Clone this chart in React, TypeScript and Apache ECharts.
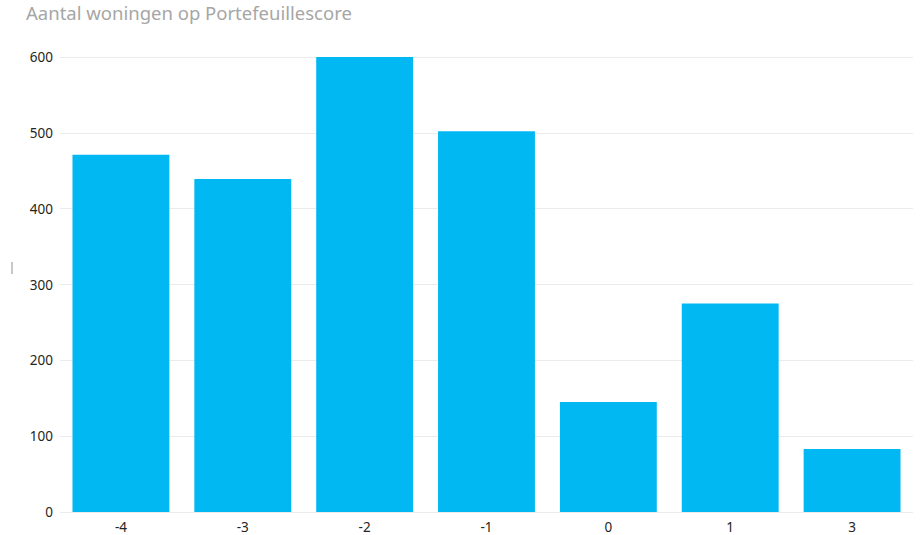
import React, { useEffect, useRef } from "react";
import * as echarts from "echarts";

const titleText = "Aantal woningen op Portefeuillescore";
const categories = ["-4", "-3", "-2", "-1", "0", "1", "3"];
const counts = [471, 439, 602, 502, 145, 275, 83];
const yTicks = { min: 0, max: 600, interval: 100 };

export default function App() {
  const ref = useRef<HTMLDivElement>(null);
  useEffect(() => {
    if (!ref.current) return;
    const chart = echarts.init(ref.current, undefined, { renderer: "svg" });
    chart.setOption({
      animation: false,
      backgroundColor: "#ffffff",
      textStyle: { fontFamily: "'Noto Sans', 'Open Sans', sans-serif" },
      title: {
        text: titleText,
        left: 21,
        top: -2,
        textStyle: {
          fontFamily: "'Noto Sans', 'Open Sans', sans-serif",
          fontSize: 18.5,
          fontWeight: "normal",
          color: "#a6a6a6",
        },
      },
      graphic: [
        {
          type: "rect",
          shape: { x: 11, y: 262, width: 2, height: 12 },
          style: { fill: "#c8c8c8" },
        },
      ],
      grid: { left: 60, right: 11, top: 57, bottom: 23, containLabel: false },
      xAxis: {
        type: "category",
        data: categories,
        axisLine: { show: false },
        axisTick: { show: false },
        axisLabel: { color: "#252423", fontSize: 13.5, margin: 8 },
      },
      yAxis: {
        type: "value",
        min: yTicks.min,
        max: yTicks.max,
        interval: yTicks.interval,
        axisLine: { show: false },
        axisTick: { show: false },
        axisLabel: { color: "#252423", fontSize: 13.5, margin: 7 },
        splitLine: { lineStyle: { color: "#ebebeb", width: 1 } },
      },
      series: [
        {
          type: "bar",
          data: counts,
          barCategoryGap: "20.5%",
          itemStyle: { color: "#01B8F2" },
        },
      ],
    });
    return () => chart.dispose();
  }, []);
  return (
    <div
      ref={ref}
      style={{ position: "fixed", left: 0, top: 0, width: 924, height: 535 }}
    />
  );
}
